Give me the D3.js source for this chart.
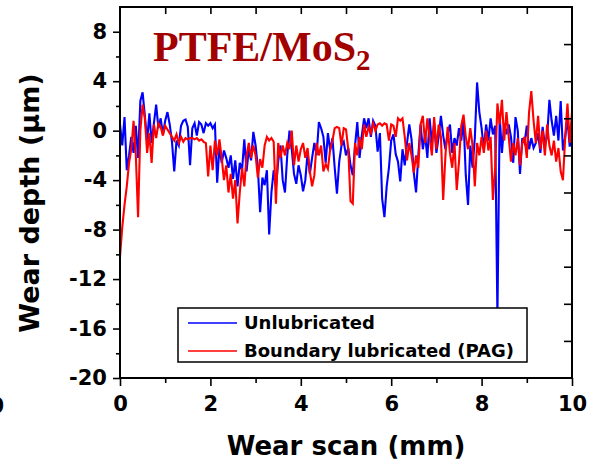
<!DOCTYPE html>
<html>
<head>
<meta charset="utf-8">
<script src="https://cdn.jsdelivr.net/npm/d3@7"></script>
<style>
html,body{margin:0;padding:0;background:#fff;}
svg{display:block;}
</style>
</head>
<body>
<svg id="chart" width="589" height="468"></svg>
<script>
// ---- data ----
const scanX = d3.range(0, 201).map(i => +(i * 0.05).toFixed(2)); // mm
const unlubricated = [
 0.5,-1.2,1.1,-3.2,-2.0,-0.5,-1.8,0.4,-2.2,2.4,
 3.1,1.2,-0.8,1.4,-1.0,0.6,2.1,0.2,1.0,-0.3,
 0.8,1.5,0.5,-0.9,-3.3,-0.8,-1.2,0.4,0.8,0.9,
 0.3,-2.8,0.2,0.6,-0.4,0.7,0.5,-0.2,0.6,0.4,
 0.6,0.2,0.5,-4.2,-1.3,-2.6,-1.6,-2.2,-3.0,-2.0,
 -3.9,-2.4,-4.5,-2.6,-3.2,-0.7,-3.3,-1.5,-2.4,-0.1,
 -1.2,-3.0,-6.6,-3.8,-4.4,-3.2,-8.4,-5.0,-3.2,-4.6,
 -2.5,-1.2,-4.0,-5.0,-2.0,0.0,-1.5,-3.5,-4.3,-2.8,
 -3.6,-4.9,-4.0,-1.8,-3.5,-2.2,-1.0,-2.0,0.7,0.2,
 -0.5,-2.6,-0.2,-1.6,-0.6,-3.0,-5.1,-2.5,-1.2,-0.9,
 -2.0,-1.4,-2.8,-3.6,-1.2,0.7,-2.2,-0.4,1.0,0.2,
 1.0,-0.5,0.8,0.4,-1.7,-0.2,-5.5,-7.0,-4.5,-3.0,
 -0.8,-0.3,-1.9,-2.5,-4.1,-1.5,-2.8,-1.0,0.5,-0.7,
 -3.4,-5.0,-2.0,0.5,-1.5,-0.3,-2.2,1.0,-1.0,0.6,
 -1.8,-0.5,1.2,-0.4,-1.5,-0.2,0.5,-1.8,-0.6,-1.2,
 0.2,-0.8,0.9,-3.6,-6.0,-1.2,-3.0,-0.6,3.9,1.5,
 0.2,-1.5,0.5,-0.8,1.0,-0.3,0.4,-15.0,1.2,-1.8,
 0.6,-0.3,0.5,-0.5,-2.6,1.1,0.0,-3.5,-0.6,-1.0,
 0.4,-1.5,-0.6,-1.4,-1.0,-0.2,-1.8,0.3,-1.2,-0.5,
 2.5,0.8,-0.4,1.2,-0.8,2.4,-1.6,-0.5,1.0,-1.3,
 0.2
];
const boundaryPAG = [
 -10.2,-7.8,-6.0,-4.5,-2.6,-1.5,0.8,-2.0,-7.0,0.0,
 2.1,1.0,-1.8,-0.2,-2.6,0.5,-0.6,0.6,0.3,-0.4,
 0.4,0.1,-0.2,-0.5,-0.8,-0.3,-1.0,-0.5,-0.9,-0.6,
 -0.7,-0.6,-0.6,-0.7,-0.6,-0.8,-0.7,-0.9,-1.0,-3.7,
 -1.2,-3.2,-0.8,-2.0,-0.7,-2.2,-4.0,-2.8,-5.0,-3.5,
 -5.5,-4.0,-7.5,-5.0,-3.0,-4.5,-2.0,-1.0,-2.2,-1.2,
 -2.0,-3.8,-2.3,-3.0,-1.2,-0.5,-0.8,-0.6,-0.9,-5.9,
 -1.0,-2.2,-1.2,-2.0,-1.0,-1.5,0.0,-2.8,-1.2,-2.5,
 -1.5,-1.0,-2.2,-1.4,-3.3,-4.5,-3.6,-1.0,-2.0,-1.2,
 -3.3,-2.7,-3.1,-1.5,-0.8,0.2,0.3,0.2,-1.2,0.2,
 0.1,-1.5,-5.7,-5.9,-1.0,-2.0,-0.5,-1.5,0.5,-0.5,
 0.3,-0.2,0.6,0.0,0.5,0.6,0.4,0.6,0.5,-0.8,
 0.5,0.4,-0.5,1.0,0.8,1.0,-0.5,-2.4,-1.0,-2.0,
 -3.4,-2.0,-3.0,0.5,1.2,-1.0,1.0,-0.5,-2.0,1.1,
 -1.5,0.5,-0.5,-5.6,-2.0,0.3,-1.8,-3.0,-1.0,-4.8,
 -2.5,0.4,1.3,-0.5,-1.5,0.2,-1.2,-4.5,-1.0,-2.0,
 -0.5,-1.8,0.0,-1.6,-0.5,-5.6,-3.0,2.2,0.5,2.5,
 -0.8,1.5,-0.5,-2.5,-1.0,-2.0,-0.6,-2.8,-1.0,-0.5,
 -2.2,1.5,3.2,0.8,-1.0,1.2,-1.5,0.0,-2.0,0.5,
 -1.2,-2.0,-0.8,-2.5,-1.4,-3.3,-4.0,-0.5,2.2,-1.0,
 1.5
];
const seriesNames = ["Unlubricated", "Boundary lubricated (PAG)"];
const seriesColors = ["#0000ff", "#ff0000"];
const xMajorTicks = [0, 2, 4, 6, 8, 10];
const xMinorTicks = [1, 3, 5, 7, 9];
const xTopTicks = [1, 2, 3, 4, 5, 6, 7, 8, 9];
const yMajorTicks = [8, 4, 0, -4, -8, -12, -16, -20];
const yMinorTicks = [6, 2, -2, -6, -10, -14, -18];
const yRightTicks = [7, 4, 1, -2, -5, -8, -11, -14, -17];

// ---- layout ----
const svg = d3.select("#chart");
const L = 120, R = 572, T = 7, B = 378;
const x = d3.scaleLinear().domain([0, 10]).range([L, R]);
const y = d3.scaleLinear().domain([-20, 10]).range([B, T]);
const tickFont = "'DejaVu Sans', sans-serif";
const plainFmt = d => String(d);

svg.append("clipPath").attr("id", "clip").append("rect")
  .attr("x", L).attr("y", T).attr("width", R - L).attr("height", B - T);

const line = d3.line().x(d => x(d[0])).y(d => y(d[1]));
const allSeries = [unlubricated, boundaryPAG];
const plot = svg.append("g").attr("clip-path", "url(#clip)");
allSeries.forEach((vals, i) => {
  plot.append("path")
    .datum(scanX.map((xv, j) => [xv, vals[j]]))
    .attr("fill", "none")
    .attr("stroke", seriesColors[i])
    .attr("stroke-width", 2.1)
    .attr("stroke-linejoin", "miter")
    .attr("d", line);
});

// frame
svg.append("rect").attr("x", L).attr("y", T).attr("width", R - L).attr("height", B - T)
  .attr("fill", "none").attr("stroke", "#000").attr("stroke-width", 2);

function styleAxis(g) {
  g.select(".domain").remove();
  g.selectAll(".tick line").attr("stroke", "#000").attr("stroke-width", 1.6);
  g.selectAll(".tick text").attr("fill", "#000")
    .attr("font-family", tickFont).attr("font-weight", "bold").attr("font-size", 21);
}

svg.append("g").attr("transform", `translate(0,${B})`)
  .call(d3.axisBottom(x).tickValues(xMajorTicks).tickSize(8).tickPadding(10).tickFormat(plainFmt))
  .call(styleAxis);
svg.append("g").attr("transform", `translate(0,${B})`)
  .call(d3.axisBottom(x).tickValues(xMinorTicks).tickSize(5).tickFormat(""))
  .call(styleAxis);
svg.append("g").attr("transform", `translate(0,${T})`)
  .call(d3.axisBottom(x).tickValues(xTopTicks).tickSize(7).tickFormat(""))
  .call(styleAxis);
svg.append("g").attr("transform", `translate(${L},0)`)
  .call(d3.axisLeft(y).tickValues(yMajorTicks).tickSize(7).tickPadding(6).tickFormat(plainFmt))
  .call(styleAxis);
svg.append("g").attr("transform", `translate(${L},0)`)
  .call(d3.axisLeft(y).tickValues(yMinorTicks).tickSize(4).tickFormat(""))
  .call(styleAxis);
svg.append("g").attr("transform", `translate(${R},0)`)
  .call(d3.axisLeft(y).tickValues(yRightTicks).tickSize(8).tickFormat(""))
  .call(styleAxis);

// axis titles
svg.append("text").attr("x", 346).attr("y", 455).attr("text-anchor", "middle")
  .attr("font-family", tickFont).attr("font-weight", "bold").attr("font-size", 26)
  .text("Wear scan (mm)");
svg.append("text").attr("transform", "translate(39,203) rotate(-90)").attr("text-anchor", "middle")
  .attr("font-family", tickFont).attr("font-weight", "bold").attr("font-size", 27)
  .text("Wear depth (μm)");

// partial label from the neighbouring panel (cut off in the reference too)
svg.append("text").attr("x", 4).attr("y", 413).attr("text-anchor", "end")
  .attr("font-family", tickFont).attr("font-weight", "bold").attr("font-size", 21).text("0");

// title
const title = svg.append("text").attr("x", 153).attr("y", 61)
  .attr("font-family", "'Liberation Serif', 'Times New Roman', serif").attr("font-weight", "bold")
  .attr("font-size", 42).attr("fill", "#a30000");
title.append("tspan").text("PTFE/MoS");
title.append("tspan").attr("font-size", 29).attr("dy", 9).text("2");

// legend
const lg = svg.append("g");
lg.append("rect").attr("x", 178).attr("y", 308).attr("width", 349).attr("height", 54)
  .attr("fill", "#fff").attr("stroke", "#000").attr("stroke-width", 1.5);
seriesNames.forEach((name, i) => {
  const yy = 323 + i * 28;
  lg.append("line").attr("x1", 188).attr("x2", 237).attr("y1", yy).attr("y2", yy)
    .attr("stroke", seriesColors[i]).attr("stroke-width", 1.5);
  lg.append("text").attr("x", 244).attr("y", yy + 6)
    .attr("font-family", tickFont).attr("font-weight", "bold").attr("font-size", 18)
    .text(name);
});
</script>
</body>
</html>
